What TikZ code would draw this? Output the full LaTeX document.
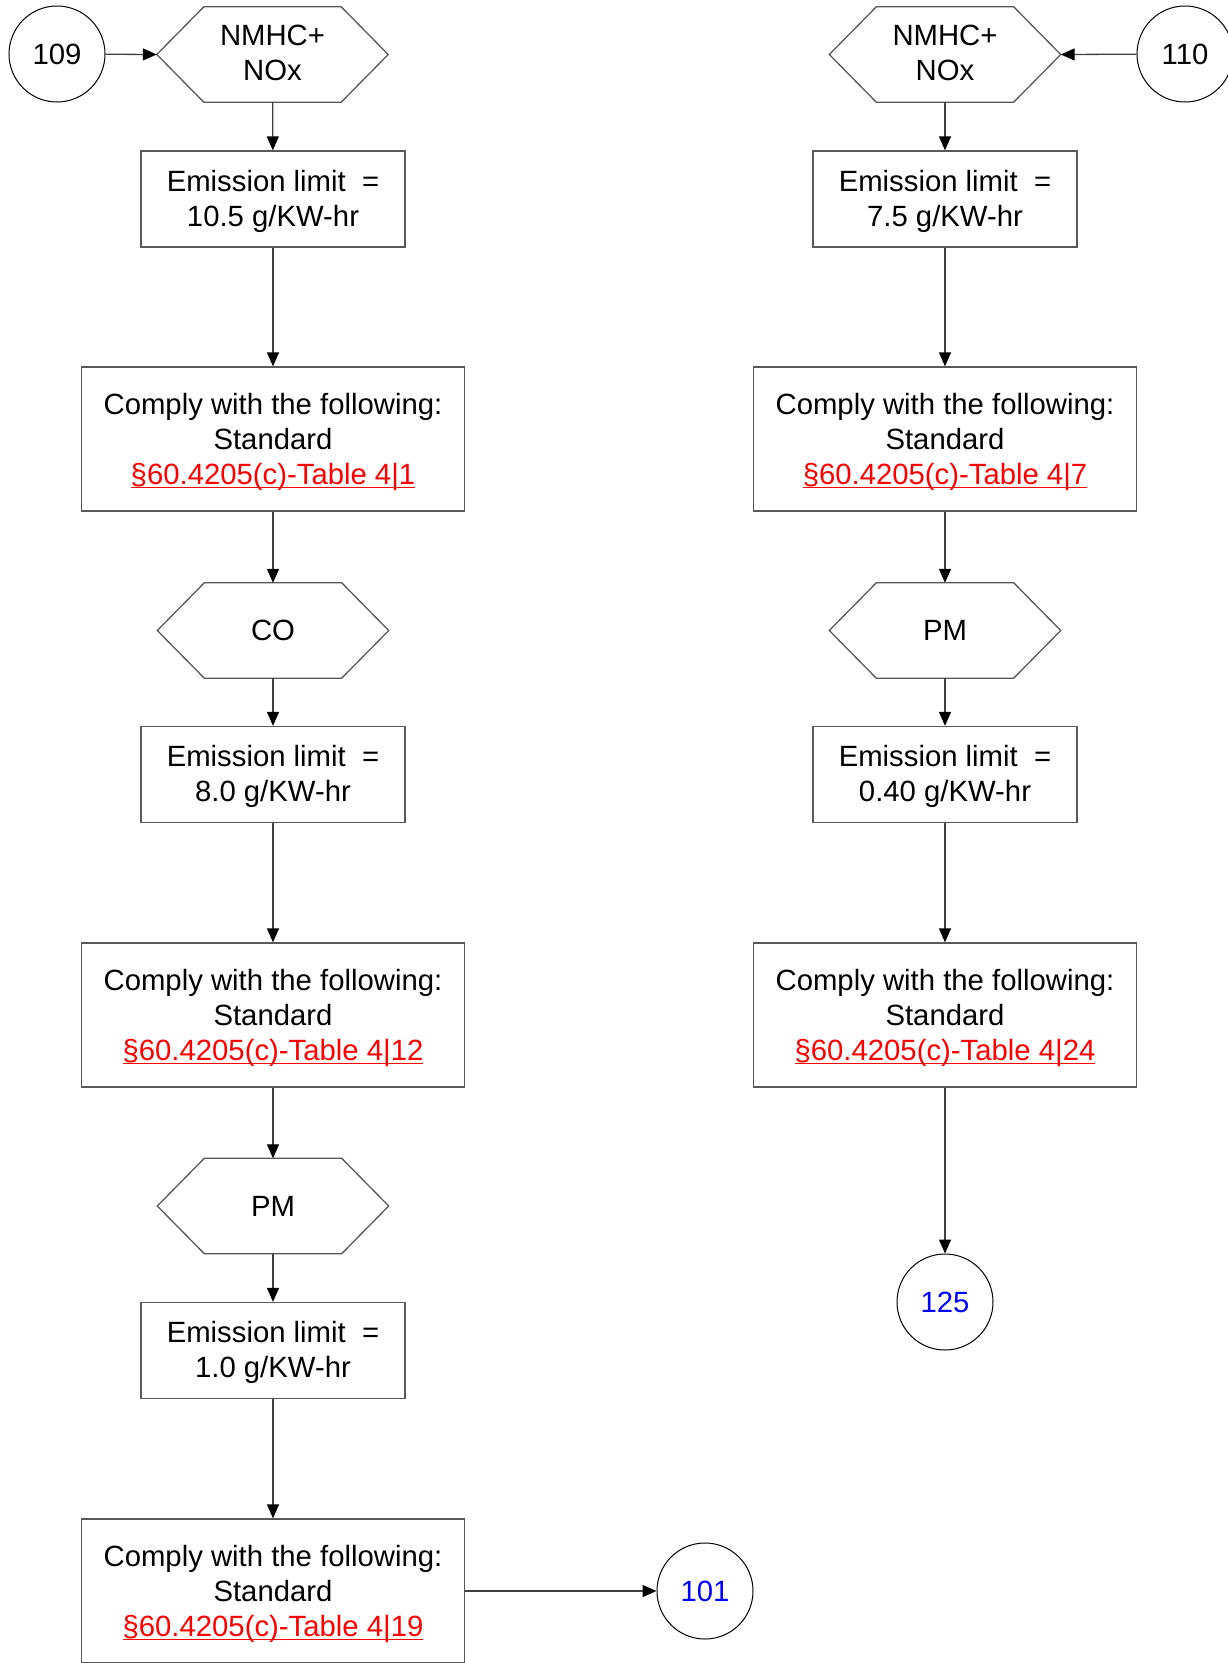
\documentclass[tikz,border=0pt]{standalone}
\usepackage{fontspec}
\setmainfont{Liberation Sans}
\usetikzlibrary{arrows.meta,calc}
\tikzset{
  base/.style={font=\fontsize{29.3}{35}\selectfont, align=center, inner sep=0pt},
  emit/.style={base, draw=black!65, line width=1.3pt, minimum width=264pt, minimum height=96pt},
  comply/.style={base, draw=black!65, line width=1.3pt, minimum width=383pt, minimum height=144pt},
  hexa/.style={base, minimum width=231pt, minimum height=95pt},
  conn/.style={base, circle, draw=black, line width=1pt, minimum size=96pt},
  arr/.style={draw=black!75, line width=1.3pt, -{Triangle[length=14pt,width=12pt,black]}},
  hexline/.style={draw=black!65, line width=1.3pt}
}
\newcommand{\reflink}[1]{\textcolor{red}{\setbox0\hbox{#1}\rlap{\rule[-3.5pt]{\wd0}{1.6pt}}\box0}}
\newcommand{\topstrut}[1]{\rule{0pt}{#1}}
\newcommand{\drawhex}[1]{\draw[hexline] ($(#1.north west)+(47pt,0)$) -- ($(#1.north east)+(-47pt,0)$) -- (#1.east) -- ($(#1.south east)+(-47pt,0)$) -- ($(#1.south west)+(47pt,0)$) -- (#1.west) -- cycle;}
\begin{document}
\begin{tikzpicture}[x=1pt,y=-1pt]
\useasboundingbox (0,0) rectangle (1228,1663);
% left column
\node[conn] (c109) at (57,54) {109};
\node[hexa] (h1) at (272.5,54.5) {NMHC+\\NOx\rule[-4pt]{0pt}{0pt}};
\drawhex{h1}
\node[emit] (e1) at (273,199) {\topstrut{25.6pt}Emission limit~ =\\10.5 g/KW-hr};
\node[comply] (k1) at (273,439) {\topstrut{27.8pt}Comply with the following:\\Standard\\\reflink{§60.4205(c)-Table 4|1}};
\node[hexa] (h2) at (273,630.5) {CO};
\drawhex{h2}
\node[emit] (e2) at (273,774.5) {\topstrut{25.6pt}Emission limit~ =\\8.0 g/KW-hr};
\node[comply] (k2) at (273,1015) {\topstrut{27.8pt}Comply with the following:\\Standard\\\reflink{§60.4205(c)-Table 4|12}};
\node[hexa] (h3) at (273,1206) {PM};
\drawhex{h3}
\node[emit] (e3) at (273,1350.5) {\topstrut{25.6pt}Emission limit~ =\\1.0 g/KW-hr};
\node[comply] (k3) at (273,1591) {\topstrut{27.8pt}Comply with the following:\\Standard\\\reflink{§60.4205(c)-Table 4|19}};
\node[conn, text=blue] (c101) at (705,1591) {101};
% right column
\node[conn] (c110) at (1185,54) {110};
\node[hexa] (h4) at (945,54.5) {NMHC+\\NOx\rule[-4pt]{0pt}{0pt}};
\drawhex{h4}
\node[emit] (e4) at (945,199) {\topstrut{25.6pt}Emission limit~ =\\7.5 g/KW-hr};
\node[comply] (k4) at (945,439) {\topstrut{27.8pt}Comply with the following:\\Standard\\\reflink{§60.4205(c)-Table 4|7}};
\node[hexa] (h5) at (945,630.5) {PM};
\drawhex{h5}
\node[emit] (e5) at (945,774.5) {\topstrut{25.6pt}Emission limit~ =\\0.40 g/KW-hr};
\node[comply] (k5) at (945,1015) {\topstrut{27.8pt}Comply with the following:\\Standard\\\reflink{§60.4205(c)-Table 4|24}};
\node[conn, text=blue] (c125) at (945,1302) {125};
% connectors
\draw[arr] (c109) -- (h1.west);
\draw[arr] (h1) -- (e1);
\draw[arr] (e1) -- (k1);
\draw[arr] (k1) -- (h2);
\draw[arr] (h2) -- (e2);
\draw[arr] (e2) -- (k2);
\draw[arr] (k2) -- (h3);
\draw[arr] (h3) -- (e3);
\draw[arr] (e3) -- (k3);
\draw[arr] (k3) -- (c101);
\draw[arr] (c110) -- (h4.east);
\draw[arr] (h4) -- (e4);
\draw[arr] (e4) -- (k4);
\draw[arr] (k4) -- (h5);
\draw[arr] (h5) -- (e5);
\draw[arr] (e5) -- (k5);
\draw[arr] (k5) -- (c125);
\end{tikzpicture}
\end{document}
